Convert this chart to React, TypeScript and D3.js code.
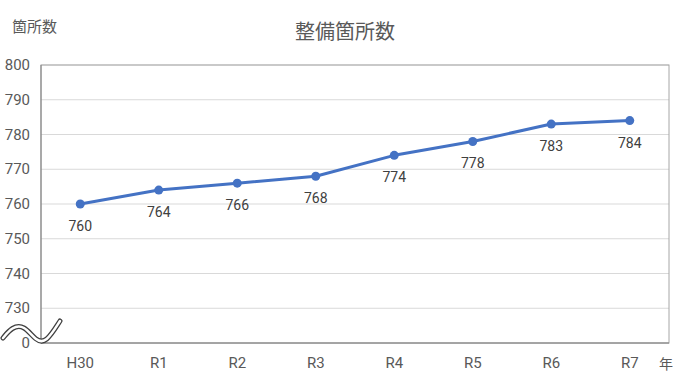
import React from "react";
import * as d3 from "d3";

const categories = ["H30", "R1", "R2", "R3", "R4", "R5", "R6", "R7"];
const values = [760, 764, 766, 768, 774, 778, 783, 784];
const yTicks = [720, 730, 740, 750, 760, 770, 780, 790, 800];
const yTickLabels = ["0", "730", "740", "750", "760", "770", "780", "790", "800"];

const W = 690;
const H = 383;
const M = { left: 41, right: 21, top: 65, bottom: 40 };

export default function App() {
  const x = d3
    .scaleBand<string>()
    .domain(categories)
    .range([M.left, W - M.right])
    .padding(0);
  const y = d3.scaleLinear().domain([720, 800]).range([H - M.bottom, M.top]);
  const cx = (c: string) => (x(c) as number) + x.bandwidth() / 2;

  const line = d3
    .line<number>()
    .x((_, i) => cx(categories[i]))
    .y((d) => y(d));

  const font = "Roboto, 'Noto Sans CJK JP', sans-serif";
  const cjk = "'Noto Sans CJK JP', sans-serif";

  // wavy break path
  const breakY = y(720) - 8;
  const wave = d3
    .line<[number, number]>()
    .curve(d3.curveBasis)(
      [
        [3, breakY + 3],
        [12, breakY - 8],
        [24, breakY - 10],
        [36, breakY + 6],
        [46, breakY + 8],
        [60, breakY - 14],
      ] as [number, number][]
    ) as string;

  return (
    <svg
      width={W}
      height={H}
      style={{ position: "absolute", left: 0, top: 0, background: "#fff" }}
    >
      <rect x={0} y={0} width={W} height={H} fill="#fff" />
      {/* gridlines */}
      {yTicks.map((t) => (
        <line
          key={t}
          x1={M.left}
          x2={W - M.right}
          y1={y(t)}
          y2={y(t)}
          stroke="#d9d9d9"
          strokeWidth={1}
        />
      ))}
      {/* frame */}
      <rect
        x={M.left}
        y={M.top}
        width={W - M.left - M.right}
        height={H - M.top - M.bottom}
        fill="none"
        stroke="#a6a6a6"
        strokeWidth={1}
      />
      <line x1={M.left} x2={M.left} y1={M.top} y2={H - M.bottom} stroke="#808080" />
      <line x1={M.left} x2={W - M.right} y1={H - M.bottom} y2={H - M.bottom} stroke="#808080" />
      {/* y tick labels */}
      {yTicks.map((t, i) => (
        <text
          key={t}
          x={30}
          y={y(t)}
          textAnchor="end"
          dominantBaseline="central"
          fontFamily={font}
          fontSize={15}
          fill="#595959"
        >
          {yTickLabels[i]}
        </text>
      ))}
      {/* axis break */}
      <path d={wave} fill="none" stroke="#404040" strokeWidth={5} strokeLinecap="round" />
      <path d={wave} fill="none" stroke="#fff" strokeWidth={2.5} strokeLinecap="round" />
      {/* x labels */}
      {categories.map((c) => (
        <text
          key={c}
          x={cx(c)}
          y={H - M.bottom + 20}
          textAnchor="middle"
          dominantBaseline="central"
          fontFamily={font}
          fontSize={15}
          fill="#595959"
        >
          {c}
        </text>
      ))}
      {/* line */}
      <path d={line(values) as string} fill="none" stroke="#4472C4" strokeWidth={3} strokeLinejoin="round" />
      {values.map((v, i) => (
        <circle key={i} cx={cx(categories[i])} cy={y(v)} r={4.5} fill="#4472C4" />
      ))}
      {values.map((v, i) => (
        <text
          key={"l" + i}
          x={cx(categories[i])}
          y={y(v) + 22}
          textAnchor="middle"
          dominantBaseline="central"
          fontFamily={font}
          fontSize={14}
          fill="#404040"
        >
          {v}
        </text>
      ))}
      {/* titles */}
      <text
        x={345}
        y={30}
        textAnchor="middle"
        dominantBaseline="central"
        fontFamily={cjk}
        fontSize={20}
        fill="#595959"
      >
        整備箇所数
      </text>
      <text
        x={12}
        y={25}
        dominantBaseline="central"
        fontFamily={cjk}
        fontSize={15}
        fill="#595959"
      >
        箇所数
      </text>
      <text
        x={659}
        y={363}
        dominantBaseline="central"
        fontFamily={cjk}
        fontSize={14}
        fill="#595959"
      >
        年
      </text>
    </svg>
  );
}
